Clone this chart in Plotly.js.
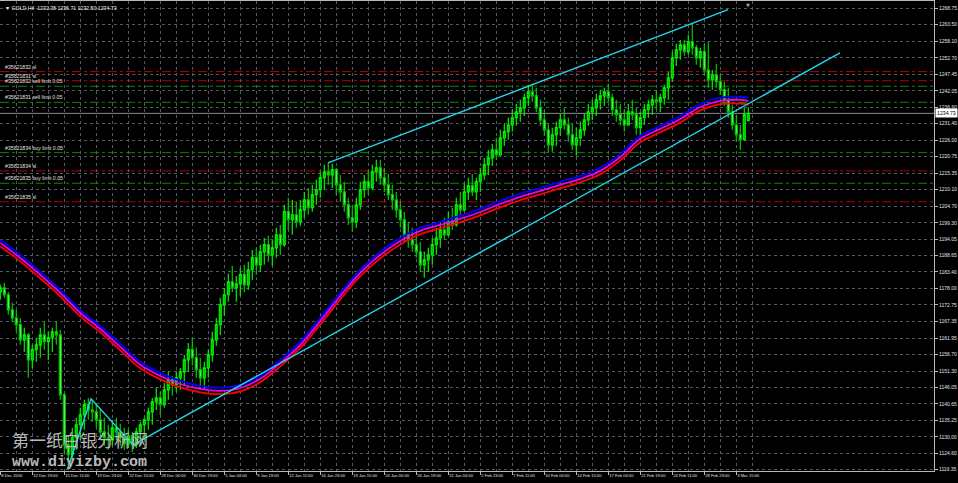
<!DOCTYPE html>
<html>
<head>
<meta charset="utf-8">
<script src="https://cdn.plot.ly/plotly-3.0.1.min.js"></script>
<style>
html,body{margin:0;padding:0;background:#000;}
#chart{width:958px;height:483px;}
</style>
</head>
<body>
<div id="chart"></div>
<script>
// ---- data (GOLD, H4; one entry per 2 H4 bars) ----
const opens = [1176.9,1178.2,1176.0,1171.1,1168.5,1166.3,1161.4,1163.0,1154.9,1158.2,1159.8,1163.0,1160.8,1162.1,1164.0,1163.0,1143.6,1127.4,1124.2,1129.7,1133.9,1137.1,1140.4,1138.7,1138.1,1135.5,1131.6,1129.7,1129.0,1132.9,1131.6,1129.7,1127.7,1130.3,1127.4,1131.6,1133.9,1135.5,1138.1,1141.3,1142.6,1140.4,1145.2,1148.5,1146.8,1149.1,1151.0,1154.9,1158.2,1155.6,1151.7,1149.1,1152.3,1156.5,1161.4,1166.3,1172.7,1176.0,1180.2,1178.2,1179.5,1182.5,1179.2,1184.1,1188.0,1185.7,1189.9,1192.2,1188.9,1191.2,1195.4,1192.2,1202.9,1200.3,1201.9,1199.6,1203.5,1206.7,1204.2,1208.4,1210.0,1213.9,1215.8,1214.8,1216.5,1211.6,1209.3,1205.1,1200.9,1199.6,1205.1,1210.0,1212.6,1210.6,1215.8,1217.1,1213.9,1211.6,1208.4,1206.7,1203.5,1200.3,1195.4,1193.8,1192.2,1189.9,1185.7,1187.3,1188.9,1192.2,1194.4,1197.0,1195.4,1199.6,1198.6,1205.1,1203.5,1209.3,1211.3,1209.3,1212.6,1214.8,1218.1,1220.3,1222.9,1221.3,1226.8,1228.8,1231.0,1233.3,1235.2,1236.5,1239.8,1241.7,1240.4,1236.5,1232.6,1229.4,1224.5,1227.8,1230.1,1232.6,1231.0,1227.8,1224.5,1226.8,1229.4,1232.6,1235.2,1236.5,1239.1,1240.4,1241.7,1239.8,1235.9,1234.3,1232.6,1231.0,1235.2,1234.3,1230.1,1233.3,1235.9,1237.5,1239.1,1238.5,1239.8,1243.0,1246.2,1252.7,1255.3,1256.9,1254.7,1257.9,1256.0,1252.7,1254.7,1248.8,1245.6,1247.2,1245.0,1242.4,1239.1,1235.2,1231.0,1227.8,1226.2,1232.4];
const highs = [1179.2,1179.9,1176.9,1173.4,1171.1,1168.5,1165.3,1163.6,1159.8,1162.1,1165.3,1167.2,1164.0,1165.3,1167.2,1164.6,1144.2,1130.6,1132.9,1136.2,1139.4,1142.0,1142.6,1142.0,1140.4,1138.7,1136.2,1133.9,1135.5,1136.2,1134.2,1132.9,1132.3,1131.6,1132.9,1134.9,1136.2,1139.4,1142.6,1145.9,1144.6,1147.5,1151.0,1149.8,1151.0,1152.3,1156.5,1160.4,1162.1,1158.8,1155.6,1154.3,1158.2,1164.0,1168.5,1175.0,1178.2,1182.8,1185.4,1182.1,1184.7,1185.7,1186.7,1190.5,1191.2,1192.2,1194.4,1195.1,1193.8,1197.7,1198.6,1205.1,1207.4,1206.7,1206.1,1206.7,1209.3,1210.6,1211.6,1213.2,1215.8,1218.1,1218.7,1218.4,1217.1,1214.8,1212.6,1207.4,1205.1,1207.4,1212.6,1214.8,1216.5,1218.1,1219.7,1219.7,1217.1,1215.2,1211.6,1209.3,1206.1,1202.9,1199.6,1197.7,1196.4,1193.1,1189.9,1191.2,1194.4,1197.7,1199.6,1200.9,1202.9,1204.2,1207.4,1209.3,1211.9,1213.9,1215.2,1213.9,1217.1,1220.3,1222.9,1224.9,1226.8,1229.4,1231.4,1233.3,1235.9,1237.8,1239.1,1241.1,1244.0,1244.3,1243.0,1239.1,1235.9,1231.4,1230.1,1232.0,1234.6,1236.5,1233.3,1231.4,1230.1,1232.0,1234.6,1237.8,1239.1,1241.1,1242.4,1243.0,1244.3,1241.1,1239.1,1237.8,1235.9,1237.8,1239.1,1236.5,1235.2,1237.8,1239.1,1240.7,1242.4,1241.1,1244.0,1248.2,1254.7,1257.3,1258.5,1258.5,1260.2,1263.4,1256.9,1256.0,1257.3,1257.9,1248.8,1250.8,1247.2,1245.0,1243.0,1237.5,1234.3,1231.0,1236.5,1236.71];
const lows = [1174.4,1175.0,1169.5,1167.2,1164.0,1159.8,1157.5,1149.1,1152.3,1154.3,1155.6,1158.2,1154.9,1157.5,1159.8,1142.0,1124.2,1120.6,1121.9,1125.8,1129.0,1132.3,1135.5,1134.9,1132.9,1129.0,1127.1,1125.8,1127.1,1129.0,1127.1,1125.8,1126.4,1125.1,1126.4,1127.4,1129.0,1132.3,1133.9,1138.7,1137.1,1139.4,1142.0,1143.3,1144.6,1145.2,1146.5,1151.0,1153.0,1149.1,1146.5,1145.2,1149.1,1154.3,1159.5,1163.0,1169.2,1173.7,1176.9,1173.7,1175.7,1176.9,1177.6,1180.8,1182.5,1183.4,1185.7,1186.7,1185.4,1188.0,1188.9,1191.5,1197.0,1195.4,1197.7,1198.3,1200.9,1201.9,1202.9,1205.1,1207.4,1210.0,1211.6,1210.6,1208.4,1206.1,1202.9,1198.6,1196.4,1197.7,1203.5,1207.4,1208.4,1210.0,1212.6,1211.6,1209.3,1206.7,1203.5,1200.9,1197.7,1193.1,1191.2,1189.9,1188.0,1183.4,1181.5,1183.4,1185.7,1188.9,1191.2,1193.8,1195.1,1197.0,1198.0,1201.9,1203.0,1206.7,1208.0,1206.7,1209.3,1213.2,1214.8,1217.7,1219.7,1221.0,1224.2,1226.2,1228.8,1230.7,1232.0,1233.9,1237.2,1238.5,1235.2,1230.7,1227.5,1222.3,1222.3,1224.2,1227.5,1229.4,1225.5,1222.9,1221.0,1224.2,1227.5,1230.7,1232.6,1233.9,1235.9,1237.2,1238.5,1233.9,1232.0,1230.7,1228.8,1230.7,1232.6,1227.8,1227.5,1231.0,1233.3,1234.3,1235.9,1235.2,1237.5,1239.1,1245.0,1250.1,1252.1,1253.4,1253.7,1253.7,1250.5,1249.5,1247.2,1243.0,1242.4,1243.0,1240.7,1237.2,1233.3,1229.4,1225.5,1222.9,1225.9,1232.38];
const closes = [1178.2,1176.0,1171.1,1168.5,1166.3,1161.4,1163.0,1154.9,1158.2,1159.8,1163.0,1160.8,1162.1,1164.0,1163.0,1143.6,1127.4,1124.2,1129.7,1133.9,1137.1,1140.4,1138.7,1138.1,1135.5,1131.6,1129.7,1129.0,1132.9,1131.6,1129.7,1127.7,1130.3,1127.4,1131.6,1133.9,1135.5,1138.1,1141.3,1142.6,1140.4,1145.2,1148.5,1146.8,1149.1,1151.0,1154.9,1158.2,1155.6,1151.7,1149.1,1152.3,1156.5,1161.4,1166.3,1172.7,1176.0,1180.2,1178.2,1179.5,1182.5,1179.2,1184.1,1188.0,1185.7,1189.9,1192.2,1188.9,1191.2,1195.4,1192.2,1202.9,1200.3,1201.9,1199.6,1203.5,1206.7,1204.2,1208.4,1210.0,1213.9,1215.8,1214.8,1216.5,1211.6,1209.3,1205.1,1200.9,1199.6,1205.1,1210.0,1212.6,1210.6,1215.8,1217.1,1213.9,1211.6,1208.4,1206.7,1203.5,1200.3,1195.4,1193.8,1192.2,1189.9,1185.7,1187.3,1188.9,1192.2,1194.4,1197.0,1195.4,1199.6,1198.6,1205.1,1203.5,1209.3,1211.3,1209.3,1212.6,1214.8,1218.1,1220.3,1222.9,1221.3,1226.8,1228.8,1231.0,1233.3,1235.2,1236.5,1239.8,1241.7,1240.4,1236.5,1232.6,1229.4,1224.5,1227.8,1230.1,1232.6,1231.0,1227.8,1224.5,1226.8,1229.4,1232.6,1235.2,1236.5,1239.1,1240.4,1241.7,1239.8,1235.9,1234.3,1232.6,1231.0,1235.2,1234.3,1230.1,1233.3,1235.9,1237.5,1239.1,1238.5,1239.8,1243.0,1246.2,1252.7,1255.3,1256.9,1254.7,1257.9,1256.0,1252.7,1254.7,1248.8,1245.6,1247.2,1245.0,1242.4,1239.1,1235.2,1231.0,1227.8,1226.2,1234.3,1234.73];

// moving averages (bar index, price)
const maBars    = [0,10,20,30,40,50,60,70,80,90,100,110,120,130,140,150,160,170,180,190,200,210,220,230,240,250,260,270,280,290,300,310,320,330,340,350,360,370,374];
const maBlue    = [1193.8,1188.9,1183.4,1177.6,1171.1,1165.9,1160.1,1154.3,1150.7,1148.1,1146.5,1145.9,1146.8,1149.8,1154.9,1160.8,1168.5,1176.6,1184.1,1189.9,1194.4,1197.7,1199.6,1201.6,1203.8,1206.4,1208.7,1210.6,1212.6,1214.5,1217.1,1221.6,1227.5,1230.7,1233.9,1237.8,1239.8,1240.1,1239.8];
const maMagenta = [1192.8,1187.9,1182.4,1176.6,1170.1,1164.9,1159.1,1153.3,1149.7,1147.1,1145.5,1144.9,1145.8,1148.8,1153.9,1159.8,1167.5,1175.6,1183.1,1188.9,1193.4,1196.7,1198.6,1200.6,1202.8,1205.4,1207.7,1209.6,1211.6,1213.5,1216.1,1220.6,1226.5,1229.7,1232.9,1236.8,1238.8,1239.1,1238.8];
const maRed     = [1191.7,1186.8,1181.3,1175.5,1169.0,1163.8,1158.0,1152.2,1148.6,1146.0,1144.4,1143.8,1144.7,1147.7,1152.8,1158.7,1166.4,1174.5,1182.0,1187.8,1192.3,1195.6,1197.5,1199.5,1201.7,1204.3,1206.6,1208.5,1210.5,1212.4,1215.0,1219.5,1225.4,1228.6,1231.8,1235.7,1237.7,1237.9,1237.6];

// trend lines (bar index, price)
const upperLineBars = [163.85, 363.85];
const upperLinePrices = [1218.7, 1268.3];
const lowerLineBars = [66.35, 419.85];
const lowerLinePrices = [1127.4, 1254.3];
const zigzagBars = [33.8, 45.35, 66.35];
const zigzagPrices = [1119.9, 1142.3, 1127.4];

// pending orders
const orderLevels = [1248.25, 1245.3, 1243.5, 1238.3, 1222.0, 1216.1, 1212.1, 1206.1];
const orderLabels = ['#35621832 sl', '#35621831 sl', '#35621832 sell limit 0.05', '#35621831 sell limit 0.05',
                     '#35621834 buy limit 0.05', '#35621834 sl', '#35621835 buy limit 0.05', '#35621835 sl'];
const orderKinds = ['sl','sl','limit','limit','limit','sl','limit','sl'];
const bidPrice = 1234.73;
const shiftMarkerBar = 374;

// axis ticks
const timeTickBars = [0,16,32,48,64,80,96,112,128,144,160,176,192,208,224,240,256,272,288,304,320,336,352,368];
const timeTickLabels = ['8 Dec 2016','12 Dec 19:00','15 Dec 11:00','19 Dec 23:00','22 Dec 15:00','28 Dec 00:00','30 Dec 19:00','5 Jan 04:00','9 Jan 19:00','12 Jan 11:00','16 Jan 23:00','19 Jan 15:00','24 Jan 00:00','26 Jan 19:00','31 Jan 04:00','2 Feb 23:00','7 Feb 11:00','10 Feb 00:00','14 Feb 15:00','17 Feb 04:00','21 Feb 19:00','24 Feb 11:00','28 Feb 23:00','3 Mar 15:00'];
const priceTickLabels = ['1268.75','1263.50','1258.10','1252.70','1247.45','1242.05','1236.60','1231.40','1226.00','1220.75','1215.35','1210.10','1204.70','1199.30','1194.05','1188.65','1183.40','1178.00','1172.75','1167.35','1161.95','1156.70','1151.30','1146.05','1140.65','1135.25','1130.00','1124.60','1119.35'];

// ---- drawing ----
const barIdx = opens.map((_, i) => i * 2);
const gridCol = '#525a66';
const txtCol = '#e0e0e0';
const cyan = '#22d6ea';

const traces = [
  {type:'scatter', mode:'lines', x:maBars, y:maRed, line:{color:'#ff0000', width:1.8, shape:'spline'}, hoverinfo:'skip'},
  {type:'scatter', mode:'lines', x:maBars, y:maMagenta, line:{color:'#ee00ee', width:1.8, shape:'spline'}, hoverinfo:'skip'},
  {type:'scatter', mode:'lines', x:maBars, y:maBlue, line:{color:'#0000ff', width:1.8, shape:'spline'}, hoverinfo:'skip'},
  {type:'candlestick', x:barIdx, open:opens, high:highs, low:lows, close:closes,
   increasing:{line:{color:'#00f000', width:1.2}, fillcolor:'#00b400'},
   decreasing:{line:{color:'#00c800', width:1.2}, fillcolor:'#8cf58c'},
   whiskerwidth:0, hoverinfo:'skip'},
  {type:'scatter', mode:'lines', x:upperLineBars, y:upperLinePrices, line:{color:cyan, width:1.4}, hoverinfo:'skip'},
  {type:'scatter', mode:'lines', x:lowerLineBars, y:lowerLinePrices, line:{color:cyan, width:1.4}, hoverinfo:'skip'},
  {type:'scatter', mode:'lines', x:zigzagBars, y:zigzagPrices, line:{color:cyan, width:1.4}, hoverinfo:'skip'}
];

const shapes = orderLevels.map((lv, i) => ({
  type:'line', xref:'paper', x0:0, x1:1, yref:'y', y0:lv, y1:lv, layer:'below',
  line:{color: orderKinds[i] === 'sl' ? '#b40000' : '#008c00', width:1, dash:'dashdot'}
}));
shapes.push({type:'line', xref:'paper', x0:0, x1:1, yref:'y', y0:bidPrice, y1:bidPrice, layer:'below',
  line:{color:'#8c8c8c', width:1}});

const annotations = orderLabels.map((t, i) => ({
  xref:'paper', x:0, xanchor:'left', xshift:3, yref:'y', y:orderLevels[i], yanchor:'bottom', yshift:0,
  text:t, showarrow:false, font:{family:'Liberation Sans', size:5.2, color:txtCol}
}));
annotations.push({xref:'paper', x:1, xanchor:'left', xshift:1, yref:'y', y:bidPrice, yanchor:'middle',
  text:bidPrice.toFixed(2), showarrow:false, bgcolor:'#ffffff', borderpad:1,
  font:{family:'Liberation Sans', size:5.2, color:'#000000'}});
annotations.push({xref:'paper', x:0, xanchor:'left', xshift:3, yref:'paper', y:1, yanchor:'top', yshift:-2,
  text:'\u25BC GOLD,H4  1232.38 1236.71 1232.50 1234.73', showarrow:false,
  font:{family:'Liberation Sans', size:5.2, color:'#f0f0f0'}});
annotations.push({xref:'x', x:shiftMarkerBar, xanchor:'center', yref:'paper', y:1, yanchor:'top', yshift:1,
  text:'\u25BC', showarrow:false, font:{family:'DejaVu Sans', size:5, color:'#a0a0a0'}});
annotations.push({xref:'paper', x:0.0107, xanchor:'left', yref:'paper', y:0.066, yanchor:'middle',
  text:'第一纸白银分析网', showarrow:false,
  font:{family:'Noto Sans CJK SC', size:17, color:'#b8b8b8'}});
annotations.push({xref:'paper', x:0.0107, xanchor:'left', yref:'paper', y:0.019, yanchor:'middle',
  text:'<b>www.diyizby.com</b>', showarrow:false,
  font:{family:'Liberation Mono', size:15, color:'#b8b8b8'}});

const layout = {
  width:958, height:483,
  margin:{l:0, r:24, t:1, b:12, pad:0},
  paper_bgcolor:'#000000', plot_bgcolor:'#000000',
  showlegend:false,
  xaxis:{
    range:[-0.15, 466.85], rangeslider:{visible:false}, fixedrange:true, automargin:false,
    tickvals:timeTickBars, ticktext:timeTickLabels, tickangle:0,
    ticks:'outside', ticklen:3, tickcolor:'#b8b8b8', ticklabelposition:'outside right',
    tickfont:{family:'Liberation Sans', size:4.1, color:txtCol},
    showgrid:true, gridcolor:gridCol, griddash:'dot', gridwidth:1,
    minor:{tickvals:timeTickBars.map(v => v + 8), showgrid:true, gridcolor:gridCol, griddash:'dot', ticks:''},
    showline:true, linecolor:'#b8b8b8', linewidth:1, mirror:true, zeroline:false
  },
  yaxis:{
    side:'right', range:[1118.93, 1271.11], fixedrange:true, automargin:false,
    tickvals:priceTickLabels.map(Number), ticktext:priceTickLabels,
    ticks:'outside', ticklen:3, tickcolor:'#b8b8b8',
    tickfont:{family:'Liberation Sans', size:5, color:txtCol},
    showgrid:true, gridcolor:gridCol, griddash:'dot', gridwidth:1,
    showline:true, linecolor:'#b8b8b8', linewidth:1, mirror:true, zeroline:false
  },
  shapes:shapes,
  annotations:annotations
};

Plotly.newPlot('chart', traces, layout, {staticPlot:true, displayModeBar:false});
</script>
</body>
</html>
